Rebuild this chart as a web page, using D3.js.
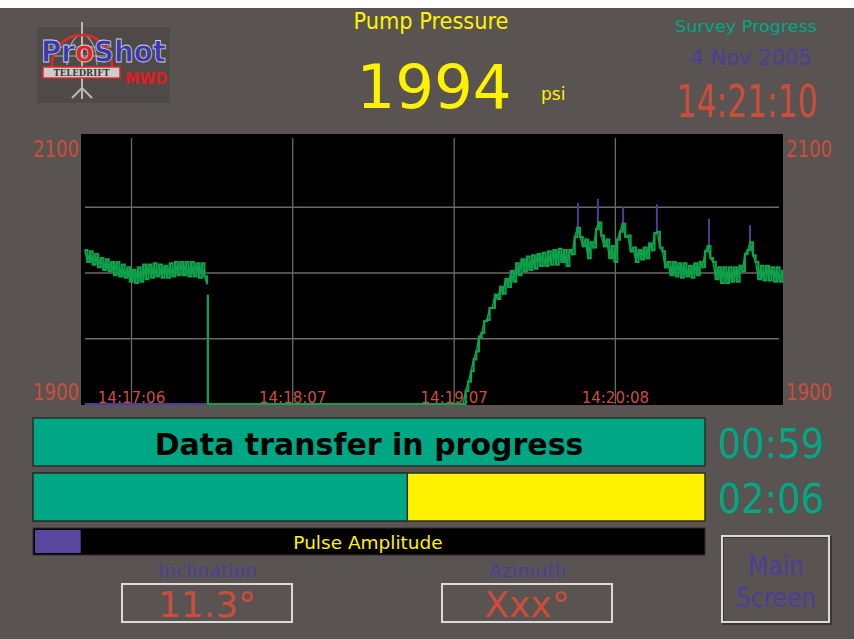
<!DOCTYPE html>
<html>
<head>
<meta charset="utf-8">
<script src="https://cdn.jsdelivr.net/npm/d3@7"></script>
<style>
  html, body { margin: 0; padding: 0; background: #595451; }
  svg { display: block; }
</style>
</head>
<body>
<script>
// ---- data ----
var pressureTitle = "Pump Pressure";
var pressureValue = 1994;
var pressureUnit = "psi";
var surveyInfo = ["Survey Progress", "4 Nov 2005", "14:21:10"];
var timers = ["00:59", "02:06"];
var statusText = "Data transfer in progress";
var progressFraction = 0.557;
var pulseAmplitude = 0.068;
var angleLabels = ["Inclination", "Azimuth"];
var angleValues = ["11.3°", "Xxx°"];
var buttonLines = ["Main", "Screen"];

var yDomain = [1900, 2100];
var yLabels = [2100, 1900];
var yGrid = [1950, 2000, 2050];
var timeDomain = ["14:16:47.600", "14:21:11.500"];
var tickTimes = ["14:17:06.400", "14:18:07.000", "14:19:07.700", "14:20:08.300"];

// pressure before the drop, one reading a second
var segAStart = "14:16:49.000";
var segA = [2017, 2008, 2016, 2006, 2014, 2004, 2011, 2002, 2010, 2001, 2008, 1998,
  2008, 1997, 2006, 1996, 2004, 1993, 2002, 1992, 2004, 1993, 2006, 1995,
  2006, 1996, 2007, 1997, 2006, 1996, 2005, 1996, 2007, 1997, 2008, 1998,
  2008, 1998, 2008, 1997, 2008, 1997, 2007, 1996, 2007, 1997, 1991];
var dropTime = "14:17:35.300";
var dropFrom = 1983;

// pressure after pumps came back, one reading a second
var segBStart = "14:19:11.200";
var segB = [1900, 1910, 1917, 1925, 1934, 1940, 1951, 1954, 1963, 1964, 1973, 1973,
  1983, 1980, 1989, 1984, 1995, 1989, 2001, 1993, 2007, 1998, 2010, 2001,
  2012, 2002, 2013, 2003, 2014, 2005, 2015, 2005, 2016, 2006, 2017, 2006,
  2018, 2008, 2017, 2005, 2017, 2014, 2027, 2034, 2027, 2020, 2025, 2011,
  2023, 2019, 2033, 2038, 2028, 2020, 2025, 2011, 2020, 2008, 2025, 2031,
  2037, 2027, 2028, 2016, 2019, 2008, 2017, 2010, 2019, 2011, 2022, 2017,
  2030, 2031, 2019, 2016, 2004, 2008, 1998, 2008, 1997, 2007, 1996, 2007,
  1997, 2005, 1996, 2007, 1998, 2008, 2004, 2016, 2020, 2011, 2008, 1995,
  2004, 1992, 2004, 1992, 2004, 1993, 2004, 1993, 2005, 2001, 2014, 2017,
  2023, 2013, 2008, 1995, 2005, 1994, 2005, 1994, 2004, 1993, 2004, 1993, 2002];

// detected pulses
var pulseTimes = ["14:19:54.400", "14:20:01.900", "14:20:11.400", "14:20:24.100", "14:20:43.700", "14:20:59.100"];
var pulseTops = [2053, 2056, 2050, 2052, 2041, 2036];
var pulseBases = [2030, 2035, 2034, 2029, 2018, 2021];
var pulseBaseline = ["14:16:49.000", "14:17:35.300"];

// ---- colours ----
var bg = "#595451", red = "#cd4d3b", teal = "#00a784", yellow = "#fff200",
    purple = "#4b3d9c", green = "#0fa24c", gridCol = "#6e6966";

var W = 854, H = 639;
var svg = d3.select("body").append("svg").attr("width", W).attr("height", H);
svg.append("rect").attr("width", W).attr("height", H).attr("fill", bg);
svg.append("rect").attr("width", W).attr("height", 8).attr("fill", "#ffffff");

var parseT = d3.timeParse("%H:%M:%S.%L");
var fmt = d3.timeFormat("%H:%M:%S");

var plot = {left: 81, right: 783, top: 134, bottom: 405};

var x = d3.scaleTime().domain(timeDomain.map(parseT)).range([plot.left, plot.right]);
var y = d3.scaleLinear().domain(yDomain).range([404, 141]);

// ---- header ----
var logo = svg.append("g");
logo.append("rect").attr("x", 37).attr("y", 27).attr("width", 133).attr("height", 76).attr("fill", "#4f4a48");
logo.append("line").attr("x1", 82).attr("x2", 82).attr("y1", 22).attr("y2", 96).attr("stroke", "#b9b6b4").attr("stroke-width", 2);
logo.append("path").attr("d", "M72,98 L82,88 L92,98 M82,88 L82,99").attr("stroke", "#b9b6b4").attr("stroke-width", 2).attr("fill", "none");
logo.append("path").attr("d", "M67,65 A15,30 0 0 1 97,65 M52,47 L112,47 M54,56 L110,56").attr("stroke", "#a8a4a2").attr("stroke-width", 1.2).attr("fill", "none");
logo.append("path").attr("d", "M52,68 L52,65 A30,30 0 0 1 112,65 L112,68").attr("stroke", "#e02a2a").attr("stroke-width", 2.5).attr("fill", "none");
logo.append("text").attr("x", 41).attr("y", 62)
  .attr("font-family", "DejaVu Sans Condensed, DejaVu Sans").attr("font-weight", "bold").attr("font-size", 31)
  .attr("textLength", 125).attr("lengthAdjust", "spacingAndGlyphs")
  .attr("fill", "#3838b0").attr("stroke", "#cfcfd6").attr("stroke-width", 0.8)
  .selectAll("tspan").data(["Pr", "o", "Shot"]).join("tspan")
  .attr("fill", function (d) { return d === "o" ? "#e02222" : "#3838b0"; })
  .text(function (d) { return d; });
logo.append("rect").attr("x", 43).attr("y", 67).attr("width", 77).attr("height", 11)
  .attr("fill", "#cfcccb").attr("stroke", "#e02a2a").attr("stroke-width", 1.5);
logo.append("text").attr("x", 81.5).attr("y", 76).attr("text-anchor", "middle")
  .attr("font-family", "DejaVu Serif").attr("font-weight", "bold").attr("font-size", 8.5)
  .attr("fill", "#3a3a3a").text("TELEDRIFT");
logo.append("text").attr("x", 125).attr("y", 84)
  .attr("font-family", "DejaVu Sans Condensed, DejaVu Sans").attr("font-weight", "bold").attr("font-size", 16)
  .attr("fill", "#e01c1c").text("MWD");

svg.append("text").attr("x", 431).attr("y", 29).attr("text-anchor", "middle")
  .attr("font-family", "DejaVu Sans Condensed, DejaVu Sans").attr("font-size", 23)
  .attr("textLength", 155).attr("lengthAdjust", "spacingAndGlyphs")
  .attr("fill", yellow).text(pressureTitle);
svg.append("text").attr("x", 434).attr("y", 108).attr("text-anchor", "middle")
  .attr("font-family", "DejaVu Sans").attr("font-size", 61)
  .attr("fill", yellow).text(pressureValue);
svg.append("text").attr("x", 541).attr("y", 100)
  .attr("font-family", "DejaVu Sans").attr("font-size", 17)
  .attr("fill", yellow).text(pressureUnit);

svg.append("text").attr("x", 746).attr("y", 32).attr("text-anchor", "middle")
  .attr("font-family", "DejaVu Sans").attr("font-size", 16)
  .attr("textLength", 142).attr("lengthAdjust", "spacingAndGlyphs")
  .attr("fill", teal).text(surveyInfo[0]);
svg.append("text").attr("x", 751).attr("y", 65).attr("text-anchor", "middle")
  .attr("font-family", "DejaVu Sans").attr("font-size", 21)
  .attr("fill", purple).text(surveyInfo[1]);
svg.append("text").attr("x", 747).attr("y", 117).attr("text-anchor", "middle")
  .attr("font-family", "DejaVu Sans Condensed, DejaVu Sans").attr("font-size", 44)
  .attr("textLength", 141).attr("lengthAdjust", "spacingAndGlyphs")
  .attr("fill", red).text(surveyInfo[2]);

// ---- chart ----
svg.append("rect").attr("x", plot.left).attr("y", plot.top)
  .attr("width", plot.right - plot.left).attr("height", plot.bottom - plot.top)
  .attr("fill", "#000");

svg.append("g").attr("transform", "translate(85,0)")
  .call(d3.axisLeft(y).tickValues(yGrid).tickSize(-(779 - 85)).tickFormat(""))
  .call(function (g) {
    g.select(".domain").remove();
    g.selectAll("line").attr("stroke", gridCol).attr("stroke-width", 1.3);
  });

svg.append("g").attr("transform", "translate(0,404)")
  .call(d3.axisBottom(x).tickValues(tickTimes.map(parseT)).tickSize(-266).tickFormat(fmt))
  .call(function (g) {
    g.select(".domain").remove();
    g.selectAll("line").attr("stroke", gridCol).attr("stroke-width", 1.3);
    g.selectAll("text").attr("y", -1).attr("dy", 0)
      .attr("font-family", "DejaVu Sans").attr("font-size", 15).attr("fill", red);
  });

[[79, "end"], [786, "start"]].forEach(function (side) {
  svg.append("g").selectAll("text").data(yLabels).join("text")
    .attr("x", side[0]).attr("text-anchor", side[1])
    .attr("y", function (d) { return y(d) + (d > 2000 ? 16 : -4); })
    .attr("font-family", "DejaVu Sans Condensed, DejaVu Sans").attr("font-size", 23)
    .attr("textLength", 46).attr("lengthAdjust", "spacingAndGlyphs")
    .attr("fill", red).text(function (d) { return d; });
});

var line = d3.line().x(function (d) { return x(d.t); }).y(function (d) { return y(d.v); });
var stepLine = d3.line().curve(d3.curveStepAfter)
  .x(function (d) { return x(d.t); }).y(function (d) { return y(d.v); });

function series(start, vals) {
  var t0 = +parseT(start);
  return vals.map(function (v, i) { return {t: new Date(t0 + i * 1000), v: v}; });
}

// pulse traces (purple)
svg.append("path")
  .datum(pulseBaseline.map(function (t) { return {t: parseT(t), v: yDomain[0]}; }))
  .attr("d", line).attr("fill", "none").attr("stroke", purple).attr("stroke-width", 2);
svg.selectAll(".pulse").data(pulseTimes).join("line").attr("class", "pulse")
  .attr("x1", function (d) { return x(parseT(d)); })
  .attr("x2", function (d) { return x(parseT(d)); })
  .attr("y1", function (d, i) { return y(pulseBases[i]); })
  .attr("y2", function (d, i) { return y(pulseTops[i]); })
  .attr("stroke", purple).attr("stroke-width", 2);

// pressure trace (green)
var dataA = series(segAStart, segA);
var dataB = [{t: parseT(dropTime), v: dropFrom}, {t: parseT(dropTime), v: yDomain[0]}]
  .concat(series(segBStart, segB));
[dataA, dataB].forEach(function (d) {
  svg.append("path").datum(d).attr("d", stepLine)
    .attr("fill", "none").attr("stroke", green).attr("stroke-width", 2.2);
  svg.append("path").datum(d).attr("d", line)
    .attr("fill", "none").attr("stroke", green).attr("stroke-width", 1.4);
});

// ---- status panel ----
var barX = d3.scaleLinear().domain([0, 1]).range([33, 705]);

svg.append("rect").attr("x", barX(0)).attr("y", 418).attr("width", barX(1) - barX(0)).attr("height", 48)
  .attr("fill", teal).attr("stroke", "#2e2b2a").attr("stroke-width", 1.5);
svg.append("text").attr("x", 369).attr("y", 455).attr("text-anchor", "middle")
  .attr("font-family", "DejaVu Sans").attr("font-weight", "bold").attr("font-size", 30)
  .attr("fill", "#000").text(statusText);

svg.append("rect").attr("x", barX(0)).attr("y", 473).attr("width", barX(1) - barX(0)).attr("height", 48)
  .attr("fill", yellow).attr("stroke", "#2e2b2a").attr("stroke-width", 1.5);
svg.append("rect").attr("x", barX(0)).attr("y", 473).attr("width", barX(progressFraction) - barX(0)).attr("height", 48)
  .attr("fill", teal).attr("stroke", "#2e2b2a").attr("stroke-width", 1.5);

svg.append("rect").attr("x", barX(0)).attr("y", 528).attr("width", barX(1) - barX(0)).attr("height", 27)
  .attr("fill", "#000").attr("stroke", "#2e2b2a").attr("stroke-width", 1);
svg.append("rect").attr("x", barX(0) + 2).attr("y", 530).attr("width", barX(pulseAmplitude) - barX(0)).attr("height", 23)
  .attr("fill", "#5a469e");
svg.append("text").attr("x", 368).attr("y", 549).attr("text-anchor", "middle")
  .attr("font-family", "DejaVu Sans").attr("font-size", 18.5)
  .attr("fill", yellow).text("Pulse Amplitude");

svg.selectAll(".timer").data(timers).join("text").attr("class", "timer")
  .attr("x", 771).attr("y", function (d, i) { return 458 + i * 55; }).attr("text-anchor", "middle")
  .attr("font-family", "DejaVu Sans Condensed, DejaVu Sans").attr("font-size", 41)
  .attr("fill", teal).text(function (d) { return d; });

// ---- angles ----
var boxes = [122, 442];
angleLabels.forEach(function (lab, i) {
  var bx = boxes[i];
  svg.append("text").attr("x", bx + 86).attr("y", 577).attr("text-anchor", "middle")
    .attr("font-family", "DejaVu Sans").attr("font-size", 18).attr("letter-spacing", 0.5)
    .attr("fill", purple).text(lab);
  svg.append("rect").attr("x", bx).attr("y", 584).attr("width", 170).attr("height", 38)
    .attr("fill", "none").attr("stroke", "#dcd8d5").attr("stroke-width", 2);
  svg.append("text").attr("x", bx + 85).attr("y", 617).attr("text-anchor", "middle")
    .attr("font-family", "DejaVu Sans").attr("font-size", 36)
    .attr("fill", red).text(angleValues[i]);
});

// ---- button ----
svg.append("rect").attr("x", 723).attr("y", 537).attr("width", 108).attr("height", 87)
  .attr("fill", "none").attr("stroke", "#3a3634").attr("stroke-width", 2);
svg.append("rect").attr("x", 722).attr("y", 536).attr("width", 107).attr("height", 86)
  .attr("fill", "none").attr("stroke", "#dedad7").attr("stroke-width", 2);
svg.selectAll(".btn").data(buttonLines).join("text").attr("class", "btn")
  .attr("x", 776).attr("y", function (d, i) { return 575 + i * 32; }).attr("text-anchor", "middle")
  .attr("font-family", "DejaVu Sans Condensed, DejaVu Sans").attr("font-size", 26)
  .attr("fill", purple).text(function (d) { return d; });
</script>
</body>
</html>
